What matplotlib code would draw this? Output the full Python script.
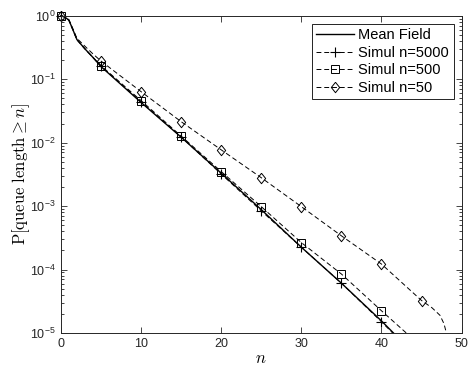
import math
import matplotlib
matplotlib.use("Agg")
import matplotlib.pyplot as plt
from matplotlib.ticker import FixedLocator, FuncFormatter, LogLocator, NullFormatter

plt.rcParams['font.family'] = ['Liberation Sans', 'DejaVu Sans']
plt.rcParams['mathtext.fontset'] = 'custom'
plt.rcParams['mathtext.rm'] = 'Liberation Sans'
plt.rcParams['mathtext.sf'] = 'Liberation Sans'

# data (tails stop where they leave the axis at 1e-5)
n_mf = [0, 0.5, 1, 1.5, 2, 3, 4, 5, 10, 15, 20, 25, 30, 35, 40, 41.5]
p_mf = [1, 0.95, 0.85, 0.6, 0.42, 0.30, 0.22, 0.158, 0.043, 0.0122, 0.0033,
        8.8e-4, 2.25e-4, 6.1e-5, 1.55e-5, 1e-5]

n_5000 = [0, 0.5, 1, 1.5, 2, 3, 4, 5, 10, 15, 20, 25, 30, 35, 40, 41.4]
p_5000 = [1, 0.95, 0.85, 0.6, 0.42, 0.30, 0.22, 0.16, 0.044, 0.0123, 0.0032,
          8.4e-4, 2.25e-4, 6.1e-5, 1.5e-5, 1e-5]

n_500 = [0, 0.5, 1, 1.5, 2, 3, 4, 5, 10, 15, 20, 25, 30, 35, 40, 43.1]
p_500 = [1, 0.95, 0.85, 0.6, 0.42, 0.30, 0.22, 0.163, 0.046, 0.0127, 3.5e-3,
         9.8e-4, 2.66e-4, 8.5e-5, 2.24e-5, 1e-5]

n_50 = [0, 0.5, 1, 1.5, 2, 3, 4, 5, 10, 15, 20, 25, 30, 35, 40, 45, 46.3,
        47.3, 47.8, 48.1]
p_50 = [1, 0.95, 0.86, 0.62, 0.44, 0.33, 0.25, 0.193, 0.0636, 0.0214, 7.7e-3,
        2.8e-3, 9.8e-4, 3.4e-4, 1.22e-4, 3.25e-5, 2.5e-5, 1.9e-5, 1.4e-5,
        1e-5]

labels = ['Mean Field', 'Simul n=5000', 'Simul n=500', 'Simul n=50']


def every5(ns):
    return [i for i, v in enumerate(ns) if v % 5 == 0]


diamond = [(0, 1), (0.8, 0), (0, -1), (-0.8, 0), (0, 1)]

fig = plt.figure(figsize=(4.72, 3.70), dpi=100)
ax = fig.add_axes([0.129, 0.1, 0.849, 0.8576])

dash = (0, (5, 3))
ax.plot(n_mf, p_mf, color='k', lw=1.0, label=labels[0], clip_on=False)
ax.plot(n_5000, p_5000, color='k', lw=0.7, ls=dash, marker='+', ms=7,
        mew=0.8, markevery=every5(n_5000), label=labels[1], clip_on=False)
ax.plot(n_500, p_500, color='k', lw=0.7, ls=dash, marker='s', ms=5.2,
        mfc='none', mew=0.7, markevery=every5(n_500), label=labels[2], clip_on=False)
ax.plot(n_50, p_50, color='k', lw=0.7, ls=dash, marker=diamond, ms=7.5,
        mfc='none', mew=0.7, markevery=every5(n_50), label=labels[3], clip_on=False)

ax.set_yscale('log')
ax.set_xlim(0, 50)
ax.set_ylim(1e-5, 1)
ax.xaxis.set_major_locator(FixedLocator([0, 10, 20, 30, 40, 50]))
ax.yaxis.set_major_locator(FixedLocator([1e-5, 1e-4, 1e-3, 1e-2, 1e-1, 1]))
ax.yaxis.set_minor_locator(LogLocator(base=10, subs=range(2, 10)))
ax.yaxis.set_minor_formatter(NullFormatter())


def fmt(v, pos):
    e = int(round(math.log10(v)))
    return r'$\mathsf{10^{%d}}$' % e


ax.yaxis.set_major_formatter(FuncFormatter(fmt))
ax.tick_params(which='both', direction='in', top=True, right=True,
               labelsize=9, width=0.6, colors='#262626')
ax.tick_params(which='major', length=4)
ax.tick_params(which='minor', length=2)
for s in ax.spines.values():
    s.set_linewidth(0.7)
    s.set_color('#262626')

ax.set_xlabel(r'$n$', fontsize=12, labelpad=1, math_fontfamily='cm')
ax.set_ylabel(r'$\mathrm{P}[\mathrm{queue\ length} \geq n]$', fontsize=12,
              labelpad=-1, math_fontfamily='cm')

leg = ax.legend(loc='upper right', fontsize=10.5, handlelength=2.6,
                fancybox=False, framealpha=1, edgecolor='k',
                borderaxespad=0.55, borderpad=0.3, labelspacing=0.25,
                handletextpad=0.3)
leg.get_frame().set_linewidth(0.6)

fig.savefig('out.png', dpi=100)
